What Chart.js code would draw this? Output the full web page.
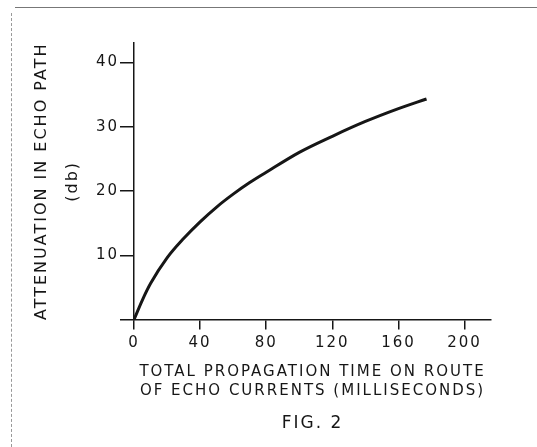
<!DOCTYPE html>
<html>
<head>
<meta charset="utf-8">
<script src="https://cdn.jsdelivr.net/npm/chart.js@4"></script>
<style>
  body { margin: 0; background: #fff; }
  #wrap { position: relative; width: 537px; height: 447px; }
  #frameTop { position: absolute; left: 15px; top: 7px; width: 522px; border-top: 1px solid #777; }
  #frameLeft { position: absolute; left: 11px; top: 13px; height: 434px; border-left: 1px dashed #999; }
  canvas { position: absolute; left: 0; top: 0; }
</style>
</head>
<body>
<div id="wrap">
  <div id="frameTop"></div>
  <div id="frameLeft"></div>
  <canvas id="myChart" width="537" height="447"></canvas>
</div>
<script>
// propagation time (ms) and attenuation (db)
const times = [0, 5, 10, 20, 30, 40, 50, 60, 70, 80, 100, 120, 140, 160, 177];
const attenuation = [0, 3.0, 5.6, 9.6, 12.6, 15.2, 17.5, 19.5, 21.3, 22.9, 26.0, 28.5, 30.8, 32.8, 34.3];

const xTicks = [0, 40, 80, 120, 160, 200];
const yTicks = [0, 10, 20, 30, 40];

const ink = '#161616';
const face = '"DejaVu Sans", sans-serif';

// wide lettering like the drawing
const spacing = {
    id: 'spacing',
    beforeDraw(chart) {
        chart.ctx.letterSpacing = '2px';
    }
};

const ctx = document.getElementById('myChart');

new Chart(ctx, {
    type: 'line',
    data: {
        datasets: [{
            data: times.map((t, i) => ({ x: t, y: attenuation[i] })),
            borderColor: ink,
            borderWidth: 3,
            pointRadius: 0,
            cubicInterpolationMode: 'monotone',
            fill: false
        }]
    },
    options: {
        responsive: false,
        animation: false,
        layout: {
            padding: { left: 12, right: 46, top: 43, bottom: 13 }
        },
        plugins: {
            legend: { display: false },
            tooltip: { enabled: false },
            title: {
                display: true,
                text: 'FIG. 2',
                position: 'bottom',
                fullSize: false,
                color: ink,
                font: { family: face, size: 17, weight: 'normal', lineHeight: 1.2 },
                padding: 0
            }
        },
        scales: {
            x: {
                type: 'linear',
                min: 0,
                max: 216,
                afterBuildTicks: scale => {
                    scale.ticks = xTicks.map(v => ({ value: v }));
                },
                afterFit: scale => {
                    scale.height = 94;
                },
                ticks: {
                    color: ink,
                    padding: 5,
                    maxRotation: 0,
                    font: { family: face, size: 15 },
                    callback: v => String(v)
                },
                grid: {
                    drawOnChartArea: false,
                    drawTicks: true,
                    tickLength: 10,
                    color: ink,
                    lineWidth: 1.5
                },
                border: { display: true, color: ink, width: 1.5 },
                title: {
                    display: true,
                    text: ['TOTAL PROPAGATION TIME ON ROUTE', 'OF ECHO CURRENTS (MILLISECONDS)'],
                    color: ink,
                    font: { family: face, size: 15, lineHeight: 1.25 },
                    padding: { top: 0, bottom: 13 }
                }
            },
            y: {
                min: 0,
                max: 43,
                afterBuildTicks: scale => {
                    scale.ticks = yTicks.map(v => ({ value: v }));
                },
                afterFit: scale => {
                    scale.width = 122;
                },
                ticks: {
                    color: ink,
                    padding: 1,
                    font: { family: face, size: 15 },
                    callback: v => (v === 0 ? '' : String(v))
                },
                grid: {
                    drawOnChartArea: false,
                    drawTicks: true,
                    tickLength: 14,
                    color: ink,
                    lineWidth: 1.5
                },
                border: { display: true, color: ink, width: 1.5 },
                title: {
                    display: true,
                    text: ['ATTENUATION IN ECHO PATH', '(db)'],
                    color: ink,
                    font: { family: face, size: 16, lineHeight: 1.9 },
                    padding: { top: 15, bottom: 0 }
                }
            }
        }
    },
    plugins: [spacing]
});
</script>
</body>
</html>
